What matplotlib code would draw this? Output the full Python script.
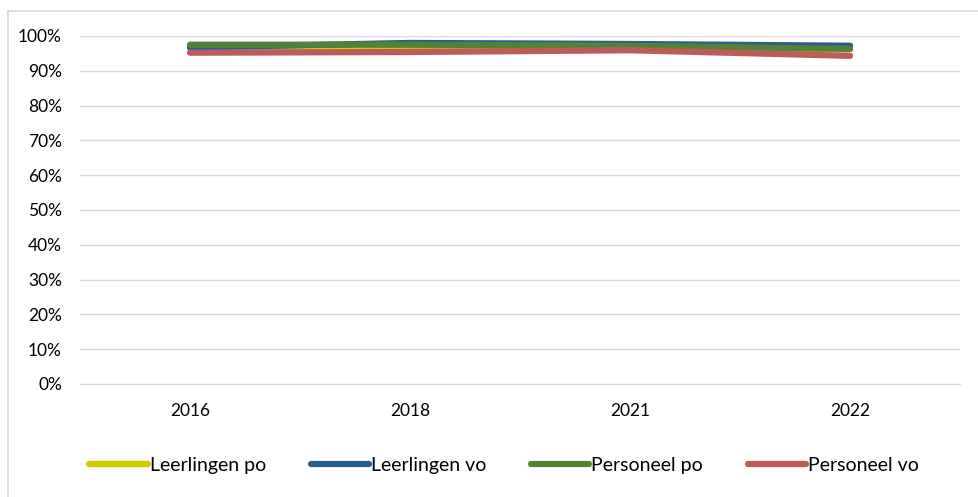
import matplotlib.pyplot as plt
from matplotlib.lines import Line2D
from matplotlib.ticker import PercentFormatter

plt.rcParams['font.family'] = ['Lato', 'DejaVu Sans']

# Data
jaren = ["2016", "2018", "2021", "2022"]
leerlingen_po = [96.5, 96.5, 96.5, 96.2]
leerlingen_vo = [96.7, 98.0, 97.7, 97.2]
personeel_po = [97.5, 97.5, 97.2, 96.3]
personeel_vo = [95.2, 95.4, 95.9, 94.3]

series = [
    ("Leerlingen po", leerlingen_po, "#CCCC00"),
    ("Leerlingen vo", leerlingen_vo, "#255E91"),
    ("Personeel po", personeel_po, "#538135"),
    ("Personeel vo", personeel_vo, "#BD5B5B"),
]

fig = plt.figure(figsize=(9.79, 4.97), dpi=100)
ax = fig.add_axes([0.0817, 0.2274, 0.8990, 0.7002])

x = range(len(jaren))
for label, vals, kleur in series:
    ax.plot(x, vals, color=kleur, linewidth=4.5, solid_capstyle="round",
            solid_joinstyle="round", label=label)

ax.set_xlim(-0.5, len(jaren) - 0.5)
ax.set_ylim(0, 100)
ax.set_yticks(range(0, 101, 10))
ax.yaxis.set_major_formatter(PercentFormatter(decimals=0))
ax.set_xticks(list(x))
ax.set_xticklabels(jaren)
ax.tick_params(axis="both", length=0, labelsize=12.5, colors="#000000")
ax.tick_params(axis="x", pad=14)
ax.tick_params(axis="y", pad=13)
ax.grid(axis="y", color="#D9D9D9", linewidth=1)
ax.set_axisbelow(True)
for s in ["top", "right", "left"]:
    ax.spines[s].set_visible(False)
ax.spines["bottom"].set_color("#D9D9D9")

# Legend
leg = fig.legend(loc="center", bbox_to_anchor=(0.515, 0.064), ncol=4,
                 frameon=False, handlelength=3.0, handletextpad=0.1,
                 columnspacing=2.3, prop={"size": 14})

# kader rond de grafiek
fig.add_artist(Line2D([8 / 979, 1], [1 - 11 / 497, 1 - 11 / 497],
                      transform=fig.transFigure, color="#D9D9D9", linewidth=1.2))
fig.add_artist(Line2D([8 / 979, 8 / 979], [0, 1 - 11 / 497],
                      transform=fig.transFigure, color="#D9D9D9", linewidth=1.2))

fig.savefig("out.png", dpi=100)
